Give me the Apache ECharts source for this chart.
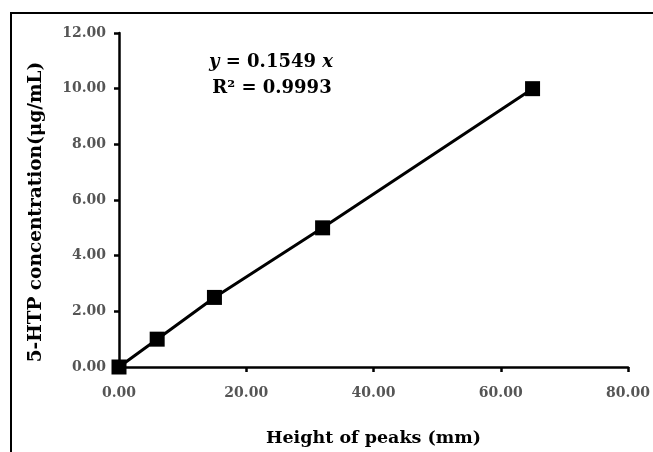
<!DOCTYPE html>
<html>
<head>
<meta charset="utf-8">
<script src="https://cdn.jsdelivr.net/npm/echarts@6/dist/echarts.min.js"></script>
<style>
html,body{margin:0;padding:0;background:#fff;}
#chart{width:653px;height:452px;}
</style>
</head>
<body>
<div id="chart"></div>
<script>
// Data
var peakHeights = [0, 6, 15, 32, 65];          // mm
var concentrations = [0, 1, 2.5, 5, 10];       // µg/mL
var xTicks = [0, 20, 40, 60, 80];
var yTicks = [0, 2, 4, 6, 8, 10, 12];
var equationText = '0.1549';
var r2Text = 'R² = 0.9993';
var xTitle = 'Height of peaks (mm)';
var yTitle = '5-HTP concentration(μg/mL)';

var FONT = '"DejaVu Serif", "Liberation Serif", serif';
var points = peakHeights.map(function (x, i) { return [x, concentrations[i]]; });

var chart = echarts.init(document.getElementById('chart'), null, {renderer: 'canvas'});
chart.setOption({
  animation: false,
  backgroundColor: '#fff',
  grid: {left: 119, right: 25, top: 33, bottom: 84, containLabel: false},
  xAxis: {
    type: 'value',
    min: xTicks[0], max: xTicks[xTicks.length - 1], interval: 20,
    name: xTitle, nameLocation: 'middle', nameGap: 62,
    nameTextStyle: {fontFamily: FONT, fontWeight: 'bold', fontSize: 17.5, color: '#000'},
    axisLine: {show: true, lineStyle: {color: '#000', width: 2.5}},
    axisTick: {show: true, length: 5, lineStyle: {color: '#000', width: 2.5}},
    axisLabel: {
      margin: 19, fontFamily: FONT, fontWeight: 'bold', fontSize: 14, color: '#555',
      formatter: function (v) { return v.toFixed(2); }
    },
    splitLine: {show: false}
  },
  yAxis: {
    type: 'value',
    min: yTicks[0], max: yTicks[yTicks.length - 1], interval: 2,
    name: yTitle, nameLocation: 'middle', nameGap: 73, nameRotate: 90,
    nameTextStyle: {fontFamily: FONT, fontWeight: 'bold', fontSize: 18.5, color: '#000', padding: [0, 24, 0, 0]},
    axisLine: {show: true, lineStyle: {color: '#000', width: 2.5}},
    axisTick: {show: true, length: 5, lineStyle: {color: '#000', width: 2.5}},
    axisLabel: {
      margin: 13, fontFamily: FONT, fontWeight: 'bold', fontSize: 14, color: '#555',
      formatter: function (v) { return v.toFixed(2); }
    },
    splitLine: {show: false}
  },
  series: [{
    type: 'line',
    data: points,
    symbol: 'rect',
    symbolSize: 15,
    lineStyle: {color: '#000', width: 3},
    itemStyle: {color: '#000'},
    z: 5
  }],
  graphic: [
    {
      type: 'rect',
      shape: {x: 11, y: 13, width: 700, height: 500},
      style: {fill: 'none', stroke: '#000', lineWidth: 2},
      z: 100, silent: true
    },
    {
      type: 'text',
      x: 271, y: 62,
      style: {
        text: '{i|y} = ' + equationText + ' {i|x}',
        rich: {
          i: {fontFamily: FONT, fontWeight: 'bold', fontStyle: 'italic', fontSize: 18, fill: '#000'}
        },
        fontFamily: FONT, fontWeight: 'bold', fontSize: 18, fill: '#000',
        align: 'center', verticalAlign: 'middle'
      },
      z: 100
    },
    {
      type: 'text',
      x: 272, y: 88,
      style: {
        text: r2Text,
        fontFamily: FONT, fontWeight: 'bold', fontSize: 18, fill: '#000',
        align: 'center', verticalAlign: 'middle'
      },
      z: 100
    }
  ]
});
</script>
</body>
</html>
